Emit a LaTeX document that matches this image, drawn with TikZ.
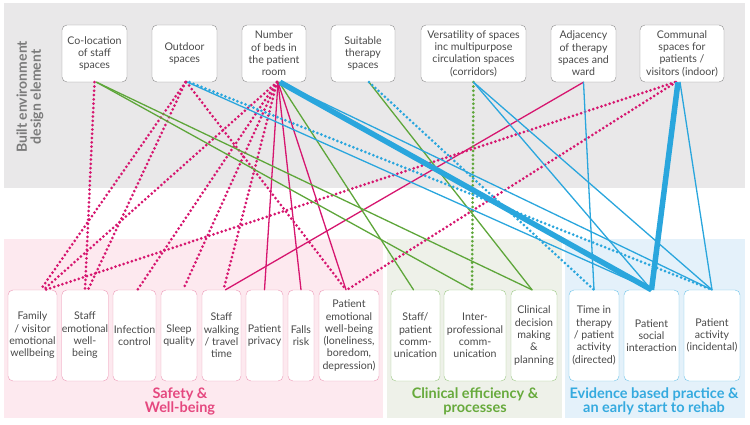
\documentclass[tikz,border=0pt]{standalone}
\usepackage{fontspec}
\setmainfont{Lato}
\definecolor{bggrey}{HTML}{E9E8E9}
\definecolor{pinkpanel}{HTML}{FDE9EF}
\definecolor{greenpanel}{HTML}{EEF1E9}
\definecolor{bluepanel}{HTML}{E4F1FA}
\definecolor{linkpink}{HTML}{D6166F}
\definecolor{linkgreen}{HTML}{5EA63A}
\definecolor{linkblue}{HTML}{2AA6DD}
\definecolor{pinklabel}{HTML}{E5487F}
\definecolor{greenlabel}{HTML}{67AA3C}
\definecolor{bluelabel}{HTML}{35AADF}
\definecolor{pinkedge}{HTML}{EC9AB7}
\definecolor{greenedge}{HTML}{9BC883}
\definecolor{blueedge}{HTML}{6EC3E9}
\definecolor{boxgrey}{HTML}{8C8C8C}
\definecolor{txtgrey}{HTML}{4A4A4A}
\definecolor{sidegrey}{HTML}{7B7B7B}
\begin{document}
\begin{tikzpicture}[x=1pt, y=-1pt, line cap=round, line join=round,
    every node/.style={font={\fontsize{10.6}{12.3}\selectfont}, text=txtgrey, align=center},
    topbox/.style={draw=boxgrey, fill=white, rounded corners=5pt, minimum height=57, inner sep=0pt},
    pinkbox/.style={draw=pinkedge, fill=white, rounded corners=5pt, minimum height=91, inner sep=0pt},
    greenbox/.style={pinkbox, draw=greenedge},
    bluebox/.style={pinkbox, draw=blueedge},
    grouplabel/.style={font={\bfseries\fontsize{14.5}{14}\selectfont}},
    solidlink/.style={line width=1.3pt},
    dotlink/.style={line width=3pt, dash pattern=on 0pt off 4.3pt}]
    % panels
    \fill[white] (0,0) rectangle (750,425);
    \fill[bggrey] (4,3) rectangle (745,188);
    \fill[pinkpanel] (4,239) rectangle (383,418);
    \fill[greenpanel] (387,239) rectangle (562,418);
    \fill[bluepanel] (565,239) rectangle (745,418);
    \node[rotate=90, text=sidegrey, font={\bfseries\fontsize{14}{14}\selectfont}] (side) at (30,97) {Built environment\\design element};

    % design elements
    \node[topbox, minimum width=65] (coloc) at (94.5,53.5) {Co-location\\of staff\\spaces};
    \node[topbox, minimum width=65] (outdoor) at (184.5,53.5) {Outdoor\\spaces};
    \node[topbox, minimum width=64] (beds) at (274,53.5) {Number\\of beds in\\the patient\\room};
    \node[topbox, minimum width=64] (suitable) at (363,53.5) {Suitable\\therapy\\spaces};
    \node[topbox, minimum width=105] (versatile) at (473.5,53.5) {Versatility of spaces\\inc multipurpose\\circulation spaces\\(corridors)};
    \node[topbox, minimum width=65] (adjacent) at (583.5,53.5) {Adjacency\\of therapy\\spaces and\\ward};
    \node[topbox, minimum width=84] (communal) at (682,53.5) {Communal\\spaces for\\patients /\\visitors (indoor)};

    % outcomes
    \node[pinkbox, minimum width=49] (family) at (32.5,335.5) {Family\\/ visitor\\emotional\\wellbeing};
    \node[pinkbox, minimum width=46] (staffemo) at (85,335.5) {Staff\\emotional\\well-\\being};
    \node[pinkbox, minimum width=43] (infect) at (134.5,335.5) {Infection\\control};
    \node[pinkbox, minimum width=36] (sleep) at (179,335.5) {Sleep\\quality};
    \node[pinkbox, minimum width=39] (walking) at (221.5,335.5) {Staff\\walking\\/ travel\\time};
    \node[pinkbox, minimum width=37] (privacy) at (264.5,335.5) {Patient\\privacy};
    \node[pinkbox, minimum width=26] (falls) at (301,335.5) {Falls\\risk};
    \node[pinkbox, minimum width=60] (patemo) at (349,335.5) {Patient\\emotional\\well-being\\(loneliness,\\boredom,\\depression)};
    \node[greenbox, minimum width=49] (staffpat) at (415.5,335.5) {Staff/\\patient\\comm-\\unication};
    \node[greenbox, minimum width=62] (interprof) at (475,335.5) {Inter-\\professional\\comm-\\unication};
    \node[greenbox, minimum width=46] (clinical) at (534,335.5) {Clinical\\decision\\making\\\&\\planning};
    \node[bluebox, minimum width=50] (therapy) at (594,335.5) {Time in\\therapy\\/ patient\\activity\\(directed)};
    \node[bluebox, minimum width=55] (social) at (651.5,335.5) {Patient\\social\\interaction};
    \node[bluebox, minimum width=56] (activity) at (712,335.5) {Patient\\activity\\(incidental)};

    \node[grouplabel, text=pinklabel] (safety) at (180,401.5) {Safety \&\\Well-being};
    \node[grouplabel, text=greenlabel] (efficiency) at (475,401.5) {Clinical efficiency \&\\processes};
    \node[grouplabel, text=bluelabel] (evidence) at (654,401.5) {Evidence based practice \&\\an early start to rehab};

    % safety and well-being links
    \draw[dotlink, linkpink] (coloc.south) -- (staffemo.north);
    \draw[dotlink, linkpink] ([xshift=1]outdoor.south) -- ([xshift=8]family.north);
    \draw[dotlink, linkpink] ([xshift=1]outdoor.south) -- ([xshift=3]staffemo.north);
    \draw[dotlink, linkpink] ([xshift=2]outdoor.south) -- ([xshift=-3]patemo.north);
    \draw[dotlink, linkpink] ([xshift=3]beds.south) -- ([xshift=11]family.north);
    \draw[dotlink, linkpink] ([xshift=3]beds.south) -- ([xshift=3]infect.north);
    \draw[dotlink, linkpink] ([xshift=3]beds.south) -- ([xshift=4]sleep.north);
    \draw[dotlink, linkpink] ([xshift=3]beds.south) -- ([xshift=2]walking.north);
    \draw[dotlink, linkpink] ([xshift=-7]communal.south) -- ([xshift=13]family.north);
    \draw[dotlink, linkpink] ([xshift=-6]communal.south) -- ([xshift=-2]patemo.north);
    \draw[solidlink, linkpink] ([xshift=4]beds.south) -- (privacy.north);
    \draw[solidlink, linkpink] ([xshift=4]beds.south) -- (falls.north);
    \draw[solidlink, linkpink] ([xshift=4]beds.south) -- ([xshift=-3]patemo.north);
    \draw[solidlink, linkpink] (adjacent.south) -- ([xshift=4]walking.north);

    % clinical efficiency links
    \draw[solidlink, linkgreen] ([xshift=2]coloc.south) -- ([xshift=-3]interprof.north);
    \draw[solidlink, linkgreen] ([xshift=2]coloc.south) -- ([xshift=-2]clinical.north);
    \draw[solidlink, linkgreen] ([xshift=5]beds.south) -- ([xshift=-2]staffpat.north);
    \draw[solidlink, linkgreen] ([xshift=6]suitable.south) -- ([xshift=-2]clinical.north);
    \draw[dotlink, linkgreen] (versatile.south) -- ([xshift=-3]interprof.north);

    % evidence based practice links
    \draw[solidlink, linkblue] ([xshift=3]outdoor.south) -- (social.north);
    \draw[dotlink, linkblue] ([xshift=5]outdoor.south) -- (activity.north);
    \draw[line width=5.5pt, linkblue, line cap=butt] ([xshift=6]beds.south) -- (social.north);
    \draw[solidlink, linkblue] ([xshift=6]beds.south) -- (activity.north);
    \draw[dotlink, linkblue] ([xshift=6]suitable.south) -- (therapy.north);
    \draw[solidlink, linkblue] (versatile.south) -- (social.north);
    \draw[solidlink, linkblue] (versatile.south) -- (activity.north);
    \draw[solidlink, linkblue] (adjacent.south) -- (therapy.north);
    \draw[line width=5.5pt, linkblue, line cap=butt] ([xshift=-4]communal.south) -- (social.north);
    \draw[solidlink, linkblue] ([xshift=-2]communal.south) -- (activity.north);
  \end{tikzpicture}
\end{document}
